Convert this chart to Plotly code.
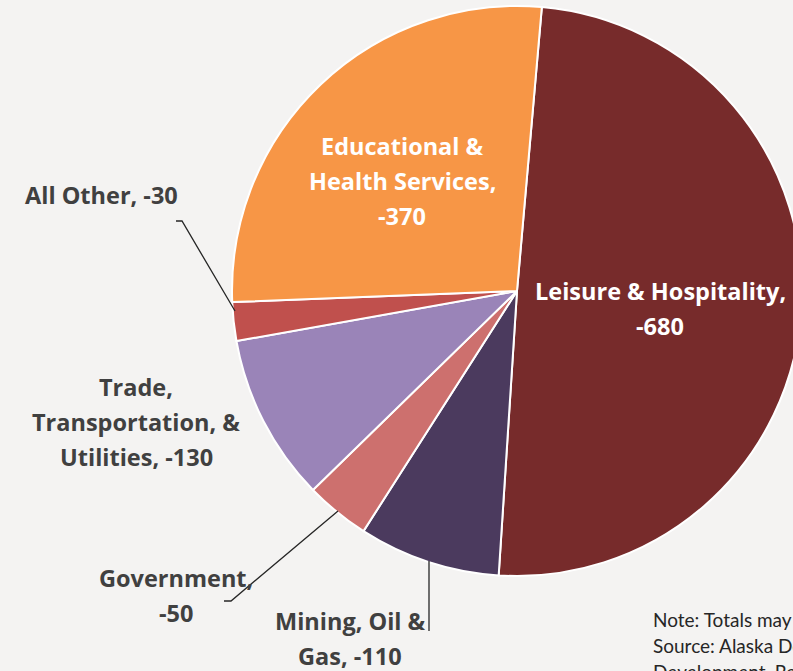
import plotly.graph_objects as go

# Data
categories = ["Leisure & Hospitality", "Mining, Oil & Gas", "Government",
              "Trade, Transportation, & Utilities", "All Other",
              "Educational & Health Services"]
values = [680, 110, 50, 130, 30, 370]
label_lines = [
    ["Leisure & Hospitality,", "-680"],
    ["Mining, Oil &", "Gas, -110"],
    ["Government,", "-50"],
    ["Trade,", "Transportation, &", "Utilities, -130"],
    ["All Other, -30"],
    ["Educational &", "Health Services,", "-370"],
]
colors = ["#772B2B", "#4B3A5E", "#CD706E", "#9A84B8", "#C0504D", "#F79646"]
note_lines = ["Note: Totals may not sum due to rounding.",
              "Source: Alaska Department of Labor and Workforce",
              "Development, Research and Analysis Section"]

W, H = 830, 671
BG = "#F4F3F2"
FONT = "Open Sans"


def px(x):
    return x / W


def py(y):
    return 1 - y / H


fig = go.Figure(go.Pie(
    labels=categories, values=values, sort=False, direction="clockwise",
    rotation=5, textinfo="none", hoverinfo="label+value",
    marker=dict(colors=colors, line=dict(color="white", width=2)),
    domain=dict(x=[px(232), px(802)], y=[py(576), py(6)]),
    showlegend=False,
))

# label layout: centre x, first-line y, colour
label_pos = [(660, 291, "white"), (350, 621, "#404040"), (176, 578, "#404040"),
             (136, 387, "#404040"), (101, 195, "#404040"), (402, 146, "white")]
LINE = 35
annotations = []
for lines, (x, y, c) in zip(label_lines, label_pos):
    for i, ln in enumerate(lines):
        annotations.append(dict(x=px(x), y=py(y + i * LINE), xref="paper", yref="paper",
                                text="<b>" + ln + "</b>", showarrow=False,
                                xanchor="center", yanchor="middle",
                                font=dict(family=FONT, size=23.5, color=c)))
for i, ln in enumerate(note_lines):
    annotations.append(dict(x=px(651), y=py(619 + i * 26), xref="paper", yref="paper",
                            text=ln, showarrow=False, xanchor="left", yanchor="middle",
                            font=dict(family="Lato", size=19, color="#262626")))

lc = dict(color="#262626", width=1.3)
shapes = [
    dict(type="path", xref="paper", yref="paper",
         path=f"M {px(176)} {py(221)} L {px(182)} {py(221)} L {px(235)} {py(311)}", line=lc),
    dict(type="path", xref="paper", yref="paper",
         path=f"M {px(224)} {py(601)} L {px(231)} {py(601)} L {px(338)} {py(511)}", line=lc),
    dict(type="line", xref="paper", yref="paper",
         x0=px(429), y0=py(561), x1=px(429), y1=py(631), line=lc),
]

fig.update_layout(width=W, height=H, margin=dict(l=0, r=0, t=0, b=0),
                  paper_bgcolor=BG, plot_bgcolor=BG,
                  annotations=annotations, shapes=shapes)

fig.write_html("out.html", config=dict(displayModeBar=False), post_script=(
    "document.body.style.margin='0';document.body.style.overflow='hidden';"
    "document.body.style.background='" + BG + "';"))
